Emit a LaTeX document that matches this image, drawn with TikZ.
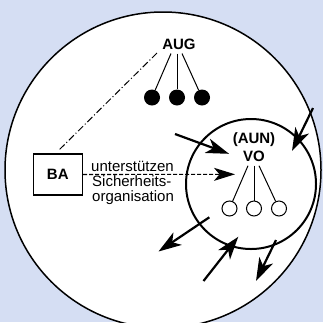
\documentclass[tikz,border=0pt]{standalone}
\usepackage{fontspec}
\setmainfont{Liberation Sans}
\usetikzlibrary{arrows.meta}
\definecolor{bgblue}{RGB}{213,222,243}
\begin{document}
\begin{tikzpicture}[x=1pt,y=-1pt,
  lbl/.style={font=\fontsize{15}{17}\selectfont\bfseries, inner sep=0pt},
  txt/.style={font=\fontsize{15}{15}\selectfont, inner sep=0pt, anchor=base west},
  thinline/.style={line width=1pt},
  bigarrow/.style={line width=2.2pt, -{Stealth[length=23pt,width=15pt,inset=6.5pt]}},
  fulldot/.style={circle, fill=black, minimum size=16pt, inner sep=0pt},
  opendot/.style={circle, draw, line width=1pt, fill=white, minimum size=15pt, inner sep=0pt},
]
\useasboundingbox (0,0) rectangle (323,322);
\clip (0,0) rectangle (323,322);
\fill[bgblue] (0,0) rectangle (323,322);
% outer circle
\node[circle, draw, fill=white, line width=1.5pt, minimum size=316pt] (world) at (163,170) {};
% inner circle
\node[circle, draw, line width=2pt, minimum size=130pt] (inner) at (251,184) {};

% AUG group
\node[lbl] (aug) at (179,44) {AUG};
\node[fulldot] (d1) at (152,97.5) {};
\node[fulldot] (d2) at (177,97.5) {};
\node[fulldot] (d3) at (202,97.5) {};
\draw[thinline] ([xshift=-8pt,yshift=-4pt]aug.south) -- (d1);
\draw[thinline] ([xshift=-2pt,yshift=-4pt]aug.south) -- (d2);
\draw[thinline] ([xshift=3pt,yshift=-4pt]aug.south) -- (d3);

% VO group
\node[lbl, align=center] (vo) at (254,147) {(AUN)\\[1pt]VO};
\node[opendot] (o1) at (229.5,208.5) {};
\node[opendot] (o2) at (254,208.5) {};
\node[opendot] (o3) at (279,208.5) {};
\draw[thinline] ([xshift=-6pt,yshift=-4pt]vo.south) -- (o1);
\draw[thinline] ([xshift=0pt,yshift=-4pt]vo.south) -- (o2);
\draw[thinline] ([xshift=5pt,yshift=-4pt]vo.south) -- (o3);

% BA box
\node[draw, line width=1.5pt, minimum width=49pt, minimum height=41pt, inner sep=0pt,
      font=\fontsize{15}{15}\selectfont\bfseries] (ba) at (57.8,174.5) {BA};

% dash-dot line
\coordinate (dd1) at (157,53);
\coordinate (dd2) at (59,150);
\draw[thinline, dash pattern=on 7pt off 2.5pt on 1pt off 2.5pt] (dd1) -- (dd2);

% dashed arrow
\coordinate (dtip) at (235,174.3);
\draw[line width=1.1pt, dash pattern=on 4pt off 2pt,
      -{Stealth[length=21pt,width=13pt,inset=5.5pt]}] (ba.east) -- (dtip);

% text
\node[txt] (t1) at (91,171) {unterstützen};
\node[txt] (t2) at (92,186.5) {Sicherheits-};
\node[txt] (t3) at (92,201.5) {organisation};

% arrows
\coordinate (a1s) at (175,134);
\coordinate (a1e) at (229,153.8);
\coordinate (a2s) at (313,108);
\coordinate (a2e) at (292,151);
\coordinate (a3s) at (209.3,217.3);
\coordinate (a3e) at (158.5,251.5);
\coordinate (a4s) at (203.5,281);
\coordinate (a4e) at (238.3,236.7);
\coordinate (a5s) at (276,240);
\coordinate (a5e) at (256,281);
\draw[bigarrow] (a1s) -- (a1e);
\draw[bigarrow] (a2s) -- (a2e);
\draw[bigarrow] (a3s) -- (a3e);
\draw[bigarrow] (a4s) -- (a4e);
\draw[bigarrow] (a5s) -- (a5e);
\end{tikzpicture}
\end{document}
